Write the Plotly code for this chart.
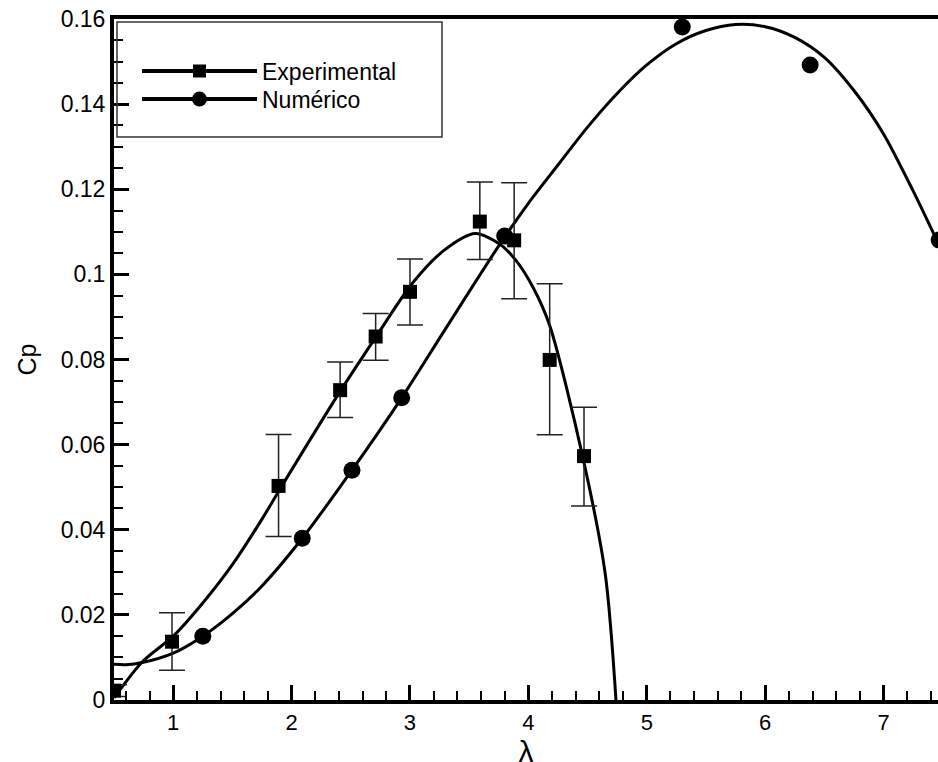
import plotly.graph_objects as go

# Experimental points (lambda, Cp) with error bar limits
exp_x = [0.50, 0.99, 1.89, 2.41, 2.71, 3.00, 3.59, 3.88, 4.18, 4.47]
exp_y = [0.0022, 0.0137, 0.0503, 0.0728, 0.0854, 0.0959, 0.1124, 0.1080, 0.0799, 0.0573]
exp_hi = [0.0036, 0.0205, 0.0624, 0.0794, 0.0908, 0.1036, 0.1217, 0.1215, 0.0978, 0.0688]
exp_lo = [0.0008, 0.0070, 0.0384, 0.0664, 0.0798, 0.0881, 0.1035, 0.0943, 0.0623, 0.0456]

# Numerical points
num_x = [1.25, 2.09, 2.51, 2.93, 3.80, 5.30, 6.38, 7.47]
num_y = [0.0150, 0.0380, 0.0540, 0.0710, 0.1090, 0.1581, 0.1492, 0.1081]

# Fitted curves
exp_fit_x = [0.50, 0.74, 1.00, 1.25, 1.50, 1.75, 1.89, 2.41, 2.71, 3.02, 3.29, 3.55, 3.76, 3.90, 4.04, 4.18, 4.46, 4.65, 4.74]
exp_fit_y = [0.0005, 0.0090, 0.0150, 0.0228, 0.0318, 0.0425, 0.0490, 0.0725, 0.0852, 0.0979, 0.1057, 0.1096, 0.1071, 0.1031, 0.0969, 0.0880, 0.0570, 0.0295, 0.0000]

num_fit_x = [0.50, 0.60, 0.74, 1.00, 1.25, 1.50, 1.75, 2.09, 2.51, 2.93, 3.30, 3.75,
             4.00, 4.25, 4.50, 4.75, 5.00, 5.25, 5.50, 5.75, 6.00, 6.25, 6.50, 6.75, 7.00, 7.25, 7.47]
num_fit_y = [0.0084, 0.0083, 0.0088, 0.0110, 0.0150, 0.0203, 0.0268, 0.0380, 0.0540, 0.0710, 0.0872, 0.1067,
             0.1167, 0.1257, 0.1346, 0.1425, 0.1492, 0.1542, 0.1573, 0.1587, 0.1582, 0.1557, 0.1510, 0.1432, 0.1330, 0.1196, 0.1068]

x_ticks = [1, 2, 3, 4, 5, 6, 7]
y_ticks = [0, 0.02, 0.04, 0.06, 0.08, 0.1, 0.12, 0.14, 0.16]
y_tick_text = ["0", "0.02", "0.04", "0.06", "0.08", "0.1", "0.12", "0.14", "0.16"]

FONT = "Liberation Sans, Arial, sans-serif"
# The figure is a little taller than the 762px window: like the reference,
# the bottom of the "λ" title runs past the lower edge of the picture.
W, H = 938, 785
PL, PT, PB = 114, 19, 700           # plot-area edges in window pixels
ML, MR, MT, MB = PL, 0, PT, H - PB

err_plus = [h - y for h, y in zip(exp_hi, exp_y)]
err_minus = [y - l for y, l in zip(exp_y, exp_lo)]

fig = go.Figure()

fig.add_trace(go.Scatter(x=exp_fit_x, y=exp_fit_y, mode="lines",
                         line=dict(color="black", width=3, shape="spline", smoothing=0.8),
                         showlegend=False, hoverinfo="skip"))
fig.add_trace(go.Scatter(x=num_fit_x, y=num_fit_y, mode="lines",
                         line=dict(color="black", width=3, shape="spline", smoothing=0.8),
                         showlegend=False, hoverinfo="skip"))

fig.add_trace(go.Scatter(x=exp_x, y=exp_y, mode="markers", name="Experimental",
                         marker=dict(symbol="square", size=14, color="black"),
                         error_y=dict(type="data", symmetric=False, array=err_plus, arrayminus=err_minus,
                                      color="#222222", thickness=1.5, width=13),
                         showlegend=False))
fig.add_trace(go.Scatter(x=num_x, y=num_y, mode="markers", name="Numérico",
                         marker=dict(symbol="circle", size=17, color="black"), showlegend=False))

# legend entries (line + marker), one per legend so their rows sit as in the reference
fig.add_trace(go.Scatter(x=[None], y=[None], mode="lines+markers", name="Experimental", legend="legend",
                         line=dict(color="black", width=4), marker=dict(symbol="square", size=13, color="black")))
fig.add_trace(go.Scatter(x=[None], y=[None], mode="lines+markers", name="Numérico", legend="legend2",
                         line=dict(color="black", width=4), marker=dict(symbol="circle", size=15, color="black")))

pw = W - PL
ph = PB - PT

def px_x(p):
    return (p - PL) / pw

def px_y(p):
    return (PB - p) / ph

fig.add_shape(type="rect", xref="paper", yref="paper",
              x0=px_x(117), x1=px_x(442), y0=px_y(137), y1=px_y(22),
              line=dict(color="#333333", width=1.5), fillcolor="rgba(0,0,0,0)", layer="above")

leg_common = dict(xanchor="left", yanchor="middle", bgcolor="rgba(0,0,0,0)", borderwidth=0,
                  itemwidth=115, font=dict(size=23, family=FONT))

fig.update_layout(
    width=W, height=H,
    margin=dict(l=ML, r=MR, t=MT, b=MB, pad=0, autoexpand=False),
    plot_bgcolor="white", paper_bgcolor="white",
    font=dict(family=FONT, color="black", size=23),
    showlegend=True,
    legend=dict(x=px_x(137), y=px_y(71), **leg_common),
    legend2=dict(x=px_x(137), y=px_y(99), **leg_common),
)

fig.update_xaxes(
    range=[0.5, 7.46], showgrid=False, zeroline=False, automargin=False,
    showline=True, linecolor="black", linewidth=4, mirror=True,
    tickmode="array", tickvals=x_ticks,
    ticks="inside", ticklen=15, tickwidth=3, tickcolor="black",
    minor=dict(dtick=0.2, tick0=0, ticks="inside", ticklen=9, tickwidth=1.5, tickcolor="black"),
    tickfont=dict(size=22, family=FONT),
    title=dict(text="λ", font=dict(size=30, family=FONT), standoff=3),
)
fig.update_yaxes(
    range=[0, 0.16], showgrid=False, zeroline=False, automargin=False,
    showline=True, linecolor="black", linewidth=4, mirror=False,
    tickmode="array", tickvals=y_ticks, ticktext=y_tick_text,
    ticks="inside", ticklen=15, tickwidth=3, tickcolor="black",
    minor=dict(dtick=0.005, tick0=0, ticks="inside", ticklen=9, tickwidth=1.5, tickcolor="black"),
    tickfont=dict(size=23, family=FONT), ticklabeloverflow="allow",
    title=dict(text="Cp", font=dict(size=25, family=FONT), standoff=18),
)

# remove the page's default 8px body margin and any scrollbar so the figure fills the window exactly
fig.write_html("out.html", config={"displayModeBar": False},
               post_script="document.body.style.margin='0';"
                           "document.body.style.overflow='hidden';"
                           "document.documentElement.style.overflow='hidden';")
